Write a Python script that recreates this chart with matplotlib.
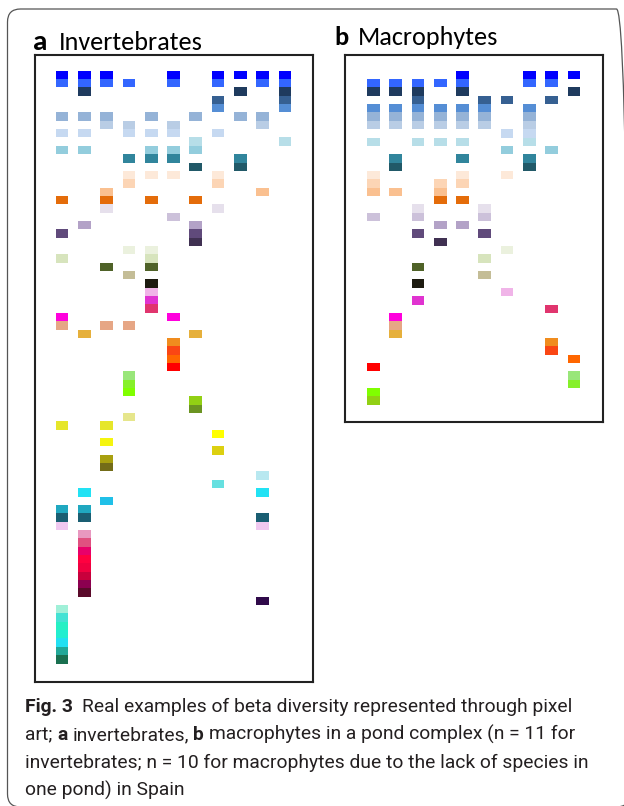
import matplotlib.pyplot as plt
from matplotlib.patches import FancyBboxPatch
from matplotlib.transforms import IdentityTransform

W, H = 624, 806

# one colour per species row (same palette used in both panels)
species_colors = [
    "#0000FF", "#3366FF", "#1F3B5E", "#366092", "#558ED5", "#95B3D7", "#B9CDE5", "#C6D9F1",
    "#B7DEE8", "#93CDDD", "#31859C", "#215968", "#FDE9D9", "#FCD5B5", "#FAC090", "#E46C0A",
    "#E6E0EC", "#CCC1DA", "#B3A2C7", "#604A7B", "#403152", "#EBF1DE", "#D7E4BD", "#4F6228",
    "#C4BD97", "#1D1B10", "#F0B4E8", "#E033D0", "#E0356E", "#FF00DD", "#E6A685", "#E6B03C",
    "#F08C1E", "#FA4614", "#FF6600", "#FF0000", "#99E67A", "#86F02A", "#80FF00", "#92D014",
    "#6B9422", "#E6E68C", "#E6E62A", "#FFFF00", "#F5F50F", "#DCD010", "#A8A010", "#736C18",
    "#B8E8F0", "#66E0E0", "#22E2F4", "#20C0E8", "#20A8C0", "#1A5E72", "#F0C8F0", "#E898C0",
    "#E05080", "#E8006A", "#FF0040", "#F00040", "#C8003C", "#8C0050", "#5A0A2A", "#300A4A",
    "#A0F0D8", "#44E2D4", "#26F0C4", "#22EED0", "#22E0F2", "#22A898", "#1A7050",
]

# species (row index) present in each pond (column)
invert_ponds = [
    [0, 1, 5, 7, 9, 15, 19, 22, 29, 30, 42, 52, 53, 54, 64, 65, 66, 67, 68, 69, 70],
    [0, 1, 2, 5, 7, 9, 18, 31, 50, 52, 53, 55, 56, 57, 58, 59, 60, 61, 62],
    [0, 1, 5, 6, 14, 15, 16, 23, 30, 42, 44, 46, 47, 51],
    [1, 6, 7, 10, 12, 13, 21, 24, 30, 36, 37, 38, 41],
    [5, 7, 9, 10, 12, 15, 21, 22, 23, 25, 26, 27, 28],
    [0, 1, 6, 7, 9, 10, 12, 17, 29, 32, 33, 34, 35],
    [5, 8, 9, 11, 15, 18, 19, 20, 31, 39, 40],
    [0, 1, 3, 4, 7, 12, 13, 16, 43, 45, 49],
    [0, 2, 5, 10, 11],
    [0, 1, 5, 6, 14, 48, 50, 53, 54, 63],
    [0, 1, 2, 3, 4, 8],
]

macro_ponds = [
    [1, 2, 4, 5, 6, 8, 12, 13, 14, 17, 35, 38, 39],
    [1, 2, 4, 5, 6, 10, 11, 14, 29, 30, 31],
    [1, 2, 3, 4, 5, 6, 8, 16, 17, 19, 23, 25, 27],
    [1, 4, 5, 6, 8, 13, 14, 15, 18, 20],
    [0, 1, 2, 4, 5, 6, 8, 10, 12, 13, 15, 18],
    [3, 4, 5, 6, 16, 17, 19, 22, 24],
    [3, 7, 9, 12, 21, 26],
    [0, 1, 4, 5, 6, 7, 8, 10, 11],
    [0, 1, 3, 9, 28, 32, 33],
    [0, 2, 34, 36, 37],
]

fig = plt.figure(figsize=(W / 100, H / 100), dpi=100)


def pixel_panel(rect, ponds, xlim, ylim):
    ax = fig.add_axes(rect)
    for j, rows in enumerate(ponds):
        ax.bar([j] * len(rows), [1] * len(rows), bottom=rows, width=0.57,
               color=[species_colors[r] for r in rows], linewidth=0, align="center")
    ax.set_xlim(*xlim)
    ax.set_ylim(*ylim)
    ax.set_xticks([])
    ax.set_yticks([])
    for s in ax.spines.values():
        s.set_linewidth(1.5)
        s.set_color("#222222")
    return ax


ax_a = pixel_panel([35 / W, 1 - 682.3 / H, 277.7 / W, 627.3 / H], invert_ponds,
                   (-1.21, 11.24), (73.25, -1.88))
ax_b = pixel_panel([345 / W, 1 - 422.3 / H, 257.5 / W, 367.3 / H], macro_ponds,
                   (-1.27, 10.28), (42.1, -1.88))

# rounded outer frame
frame = FancyBboxPatch((7.5, -1), 622, 798, boxstyle="round,pad=0,rounding_size=13",
                       transform=IdentityTransform(), fill=False, edgecolor="#555555",
                       linewidth=0.9)
fig.add_artist(frame)

title_font = ["Carlito", "Lato", "DejaVu Sans"]
fig.text(33 / W, 1 - 50 / H, "a", fontsize=21, fontweight="bold", family=title_font, va="baseline")
fig.text(59 / W, 1 - 50 / H, "Invertebrates", fontsize=18.8, family=title_font, va="baseline")
fig.text(334 / W, 1 - 45 / H, "b", fontsize=19, fontweight="bold", family=title_font, va="baseline")
fig.text(358 / W, 1 - 45 / H, "Macrophytes", fontsize=18.8, family=title_font, va="baseline")

# caption, drawn run by run so bold letters sit inside the line
cap_font = ["Roboto", "DejaVu Sans"]
cap_size = 13.9
renderer = fig.canvas.get_renderer()


def text_width(s, weight="normal"):
    t = fig.text(0, 0, s, fontsize=cap_size, family=cap_font, fontweight=weight)
    w = t.get_window_extent(renderer).width
    t.remove()
    return w


space = text_width("a a") - text_width("aa")

caption_lines = [
    [("Fig. 3", "bold", 2), ("Real examples of beta diversity represented through pixel", "normal", 0)],
    [("art;", "normal", 1), ("a", "bold", 1), ("invertebrates,", "normal", 1), ("b", "bold", 1),
     ("macrophytes in a pond complex (n = 11 for", "normal", 0)],
    [("invertebrates; n = 10 for macrophytes due to the lack of species in", "normal", 0)],
    [("one pond) in Spain", "normal", 0)],
]
baselines = [712, 740, 768, 796]

for runs, yb in zip(caption_lines, baselines):
    x = 25
    for txt, weight, gaps in runs:
        t = fig.text(x / W, 1 - yb / H, txt, fontsize=cap_size, family=cap_font,
                     fontweight=weight, va="baseline", color="#231F20")
        x += t.get_window_extent(renderer).width + gaps * space

fig.savefig("out.png", dpi=100)
